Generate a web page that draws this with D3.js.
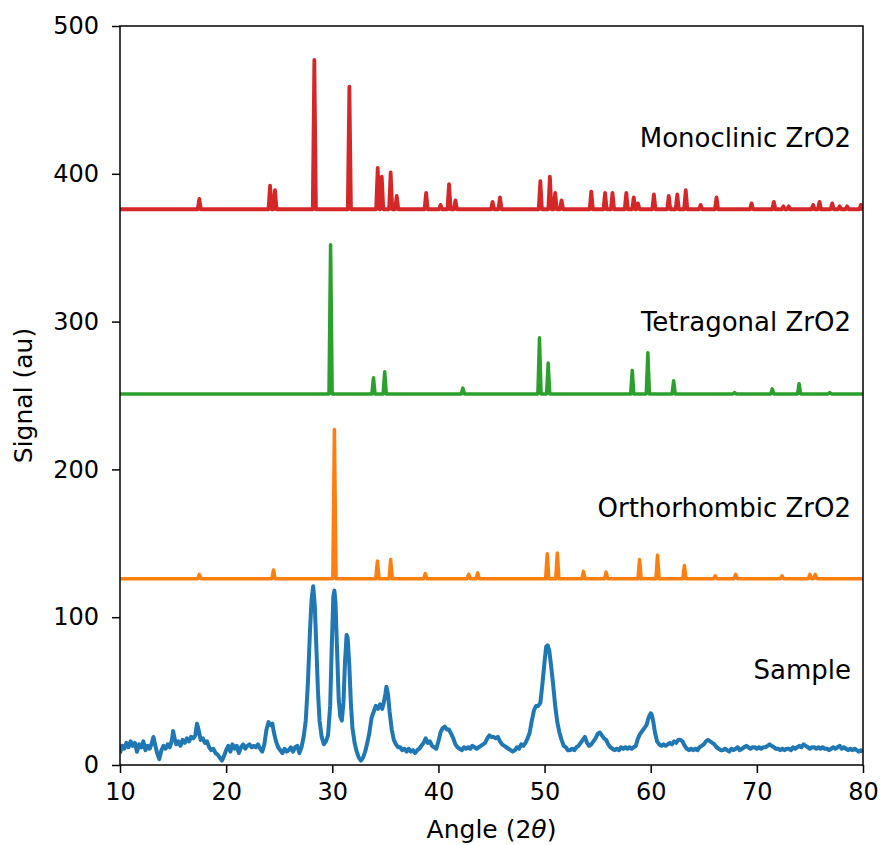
<!DOCTYPE html>
<html>
<head>
<meta charset="utf-8">
<script src="https://cdn.jsdelivr.net/npm/d3@7"></script>
<style>
  body { margin: 0; background: #fff; }
  svg text { font-family: "DejaVu Sans", sans-serif; fill: #000; }
</style>
</head>
<body>
<svg id="xrd" width="883" height="845"></svg>
<script>
// peaks of the reference patterns: [angle, height above the pattern's baseline]
var monoclinicPeaks = [[17.47,7],[24.14,16],[24.6,13],[28.31,101],[31.61,83],[34.28,28],[34.66,22],
  [35.5,25],[36.07,9],[38.84,11],[40.2,3],[41.0,17],[41.6,6],[45.1,5],[45.8,8],[49.6,19],[50.5,22],
  [51.0,11],[51.6,6],[54.4,12],[55.7,11],[56.4,11],[57.7,11],[58.4,8],[58.8,4],[60.3,10],[61.7,9],
  [62.5,10],[63.3,13],[64.7,3],[66.2,8],[69.5,4],[71.6,5],[72.5,2],[73.0,2],[75.3,3],[75.9,5],
  [77.1,4],[77.8,2],[78.5,2],[79.8,3]];
var tetragonalPeaks = [[29.84,101],[33.88,11],[34.94,15],[42.3,4],[49.52,38],[50.34,21],[58.26,16],
  [59.73,28],[62.16,9],[67.9,1],[71.45,3.5],[73.98,7],[76.87,1]];
var orthorhombicPeaks = [[17.47,3],[24.46,6],[30.2,101],[34.25,12],[35.5,13],[38.76,3.5],[42.85,3],
  [43.7,4],[50.25,17],[51.2,17.5],[53.66,5],[55.8,4.5],[58.95,13],[60.64,16],[63.17,9],[66.07,2],
  [68.0,3],[72.37,2],[75.0,3],[75.5,3]];

// vertical offsets of the stacked patterns
var offsets = {mono: 376, tetra: 251, ortho: 126};

// measured sample pattern: angle and signal
var sampleAngle = [10.0,10.2,10.4,10.6,10.8,11.0,11.2,11.4,11.6,11.8,12.0,12.2,12.4,12.6,12.8,13.0,13.15,13.3,13.5,13.7,13.9,
  14.1,14.3,14.5,14.7,14.9,15.0,15.15,15.3,15.5,15.7,15.9,16.1,16.3,16.5,16.7,16.9,17.1,17.25,17.4,17.6,17.8,
  18.0,18.2,18.4,18.6,18.8,19.0,19.2,19.4,19.6,19.8,20.0,20.2,20.4,20.6,20.8,21.0,21.2,21.4,21.6,21.8,
  22.0,22.2,22.4,22.6,22.8,23.0,23.2,23.4,23.6,23.8,24.0,24.2,24.35,24.5,24.7,24.9,25.1,25.3,25.5,25.7,25.9,
  26.1,26.3,26.5,26.7,26.9,27.1,27.3,27.5,27.7,27.9,28.05,28.2,28.35,28.5,28.65,28.8,29.0,29.2,29.4,29.6,29.8,
  29.95,30.1,30.2,30.3,30.45,30.6,30.75,30.9,31.05,31.2,31.35,31.45,31.6,31.75,31.9,32.1,32.3,32.5,32.7,32.9,
  33.1,33.3,33.5,33.7,33.9,34.1,34.3,34.5,34.7,34.85,35.0,35.1,35.25,35.4,35.6,35.8,36.0,36.2,36.4,36.6,36.8,
  37.0,37.2,37.4,37.6,37.8,38.0,38.2,38.4,38.6,38.8,39.0,39.2,39.4,39.6,39.8,40.0,40.2,40.4,40.6,40.8,
  41.0,41.2,41.4,41.6,41.8,42.0,42.2,42.4,42.6,42.8,43.0,43.2,43.4,43.6,43.8,44.0,44.2,44.4,44.6,44.8,
  45.0,45.2,45.4,45.6,45.8,46.0,46.2,46.4,46.6,46.8,47.0,47.2,47.4,47.6,47.8,48.0,48.2,48.4,48.6,48.8,
  49.0,49.2,49.4,49.6,49.8,50.0,50.15,50.3,50.45,50.6,50.8,51.0,51.2,51.4,51.6,51.8,52.0,52.2,52.4,52.6,52.8,
  53.0,53.2,53.4,53.6,53.8,54.0,54.2,54.4,54.6,54.8,55.0,55.2,55.4,55.6,55.8,56.0,56.2,56.4,56.6,56.8,
  57.0,57.2,57.4,57.6,57.8,58.0,58.2,58.4,58.6,58.8,59.0,59.2,59.4,59.6,59.8,60.0,60.1,60.25,60.4,60.6,60.8,
  61.0,61.2,61.4,61.6,61.8,62.0,62.2,62.4,62.6,62.8,63.0,63.2,63.4,63.6,63.8,64.0,64.2,64.4,64.6,64.8,
  65.0,65.2,65.4,65.6,65.8,66.0,66.2,66.4,66.6,66.8,67.0,67.2,67.4,67.6,67.8,68.0,68.2,68.4,68.6,68.8,
  69.0,69.2,69.4,69.6,69.8,70.0,70.2,70.4,70.6,70.8,71.0,71.2,71.4,71.6,71.8,72.0,72.2,72.4,72.6,72.8,
  73.0,73.2,73.4,73.6,73.8,74.0,74.2,74.4,74.6,74.8,75.0,75.2,75.4,75.6,75.8,76.0,76.2,76.4,76.6,76.8,
  77.0,77.2,77.4,77.6,77.8,78.0,78.2,78.4,78.6,78.8,79.0,79.2,79.4,79.6,79.8,80.0];
var sampleSignal = [8,13,11,15,12,16,13,15,9,14,12,16,10,13,11,15,19,14,8,4,10,
  13,11,14,12,17,23,18,14,16,13,17,15,18,16,19,18,20,28,24,17,18,
  15,16,12,10,11,8,7,5,3,6,10,13,9,14,11,13,8,12,14,11,
  13,14,12,13,12,14,11,9,14,24,29,27,28,22,16,12,10,8,11,9,10,
  12,9,12,13,8,12,19,30,55,91,112,121,108,80,50,30,19,14,16,20,40,
  80,114,118,110,78,45,33,30,42,70,88,86,68,42,25,15,9,5,3,5,
  9,15,22,32,36,40,38,41,38,42,48,53,48,36,24,17,14,12,12,10,11,
  9,11,9,10,8,10,11,13,15,18,15,16,13,12,11,16,22,25,26,24,
  24,21,18,14,12,11,10,12,11,12,11,13,12,11,12,13,14,15,18,20,
  19,19,18,19,16,14,13,12,11,10,9,10,12,11,14,13,15,18,22,30,
  37,40,40,42,55,70,80,81,77,68,55,40,29,22,17,13,12,10,10,11,10,
  12,13,15,17,19,15,13,14,16,18,21,22,20,18,17,14,12,11,10,11,
  10,12,11,12,11,12,11,12,13,18,21,23,25,27,32,35,34,29,22,16,14,
  13,14,13,14,15,14,16,15,17,17,16,13,11,10,11,10,11,10,12,13,
  14,16,17,16,15,14,12,11,10,10,11,10,9,11,10,11,12,10,11,12,
  13,12,11,12,12,11,12,11,12,12,13,14,13,12,11,11,10,11,10,11,
  11,10,12,11,12,13,12,14,13,12,11,12,12,11,12,11,12,11,11,10,
  11,12,11,12,13,11,12,11,10,11,10,11,10,9,10,9];

var xTicks = [10, 20, 30, 40, 50, 60, 70, 80];
var yTicks = [0, 100, 200, 300, 400, 500];

var labels = [
  {text: "Monoclinic ZrO2", y: 418},
  {text: "Tetragonal ZrO2", y: 293.5},
  {text: "Orthorhombic ZrO2", y: 168},
  {text: "Sample", y: 58}
];

var margin = {top: 26, right: 20, bottom: 80, left: 120};
var width = 883 - margin.left - margin.right;
var height = 845 - margin.top - margin.bottom;

var svg = d3.select("#xrd");
var g = svg.append("g").attr("transform", "translate(" + margin.left + "," + margin.top + ")");

var x = d3.scaleLinear().domain([10, 80]).range([0, width]);
var y = d3.scaleLinear().domain([0, 500]).range([height, 0]);

g.append("clipPath").attr("id", "plotclip")
  .append("rect").attr("width", width).attr("height", height);

var line = d3.line()
  .x(function(d) { return x(d[0]); })
  .y(function(d) { return y(d[1]); });

// turn a peak list into a line: flat baseline with a narrow spike at each peak
function peakPath(peaks, base) {
  var w = 0.15;
  var pts = [[10, base]];
  peaks.forEach(function(p) {
    pts.push([p[0] - w, base]);
    pts.push([p[0], base + p[1]]);
    pts.push([p[0] + w, base]);
  });
  pts.push([80, base]);
  return line(pts);
}

var sample = sampleAngle.map(function(a, i) { return [a, sampleSignal[i]]; });

var plot = g.append("g").attr("clip-path", "url(#plotclip)");

plot.append("path")
  .attr("d", line(sample))
  .attr("fill", "none").attr("stroke", "#1f77b4")
  .attr("stroke-width", 4).attr("stroke-linejoin", "round");

plot.append("path")
  .attr("d", peakPath(orthorhombicPeaks, offsets.ortho))
  .attr("fill", "none").attr("stroke", "#ff7f0e")
  .attr("stroke-width", 3.5).attr("stroke-linejoin", "round");

plot.append("path")
  .attr("d", peakPath(tetragonalPeaks, offsets.tetra))
  .attr("fill", "none").attr("stroke", "#2ca02c")
  .attr("stroke-width", 3.5).attr("stroke-linejoin", "round");

plot.append("path")
  .attr("d", peakPath(monoclinicPeaks, offsets.mono))
  .attr("fill", "none").attr("stroke", "#d62728")
  .attr("stroke-width", 3.8).attr("stroke-linejoin", "round");

// series labels
g.selectAll(".lbl").data(labels).enter().append("text")
  .attr("class", "lbl")
  .attr("x", width - 12)
  .attr("y", function(d) { return y(d.y); })
  .attr("text-anchor", "end")
  .style("font-size", "26px")
  .text(function(d) { return d.text; });

// axes
var xAxis = g.append("g").attr("transform", "translate(0," + height + ")")
  .call(d3.axisBottom(x).tickValues(xTicks).tickSize(8).tickSizeOuter(0).tickPadding(10));
var yAxis = g.append("g")
  .call(d3.axisLeft(y).tickValues(yTicks).tickSize(8).tickSizeOuter(0).tickPadding(13));

[xAxis, yAxis].forEach(function(a) {
  a.selectAll("text").style("font-size", "24px").style("font-family", "DejaVu Sans");
  a.selectAll("line").attr("stroke", "#000").attr("stroke-width", 1.5);
  a.select(".domain").remove();
});

// frame
g.append("rect")
  .attr("width", width).attr("height", height)
  .attr("fill", "none").attr("stroke", "#000").attr("stroke-width", 1.5);

// axis titles
var xl = svg.append("text")
  .attr("x", margin.left + width / 2).attr("y", 838)
  .attr("text-anchor", "middle").style("font-size", "25px");
xl.append("tspan").text("Angle (2");
xl.append("tspan").style("font-style", "italic").text("\u03b8");
xl.append("tspan").text(")");

svg.append("text")
  .attr("transform", "translate(32," + (margin.top + height / 2) + ") rotate(-90)")
  .attr("text-anchor", "middle").style("font-size", "25px")
  .text("Signal (au)");
</script>
</body>
</html>
